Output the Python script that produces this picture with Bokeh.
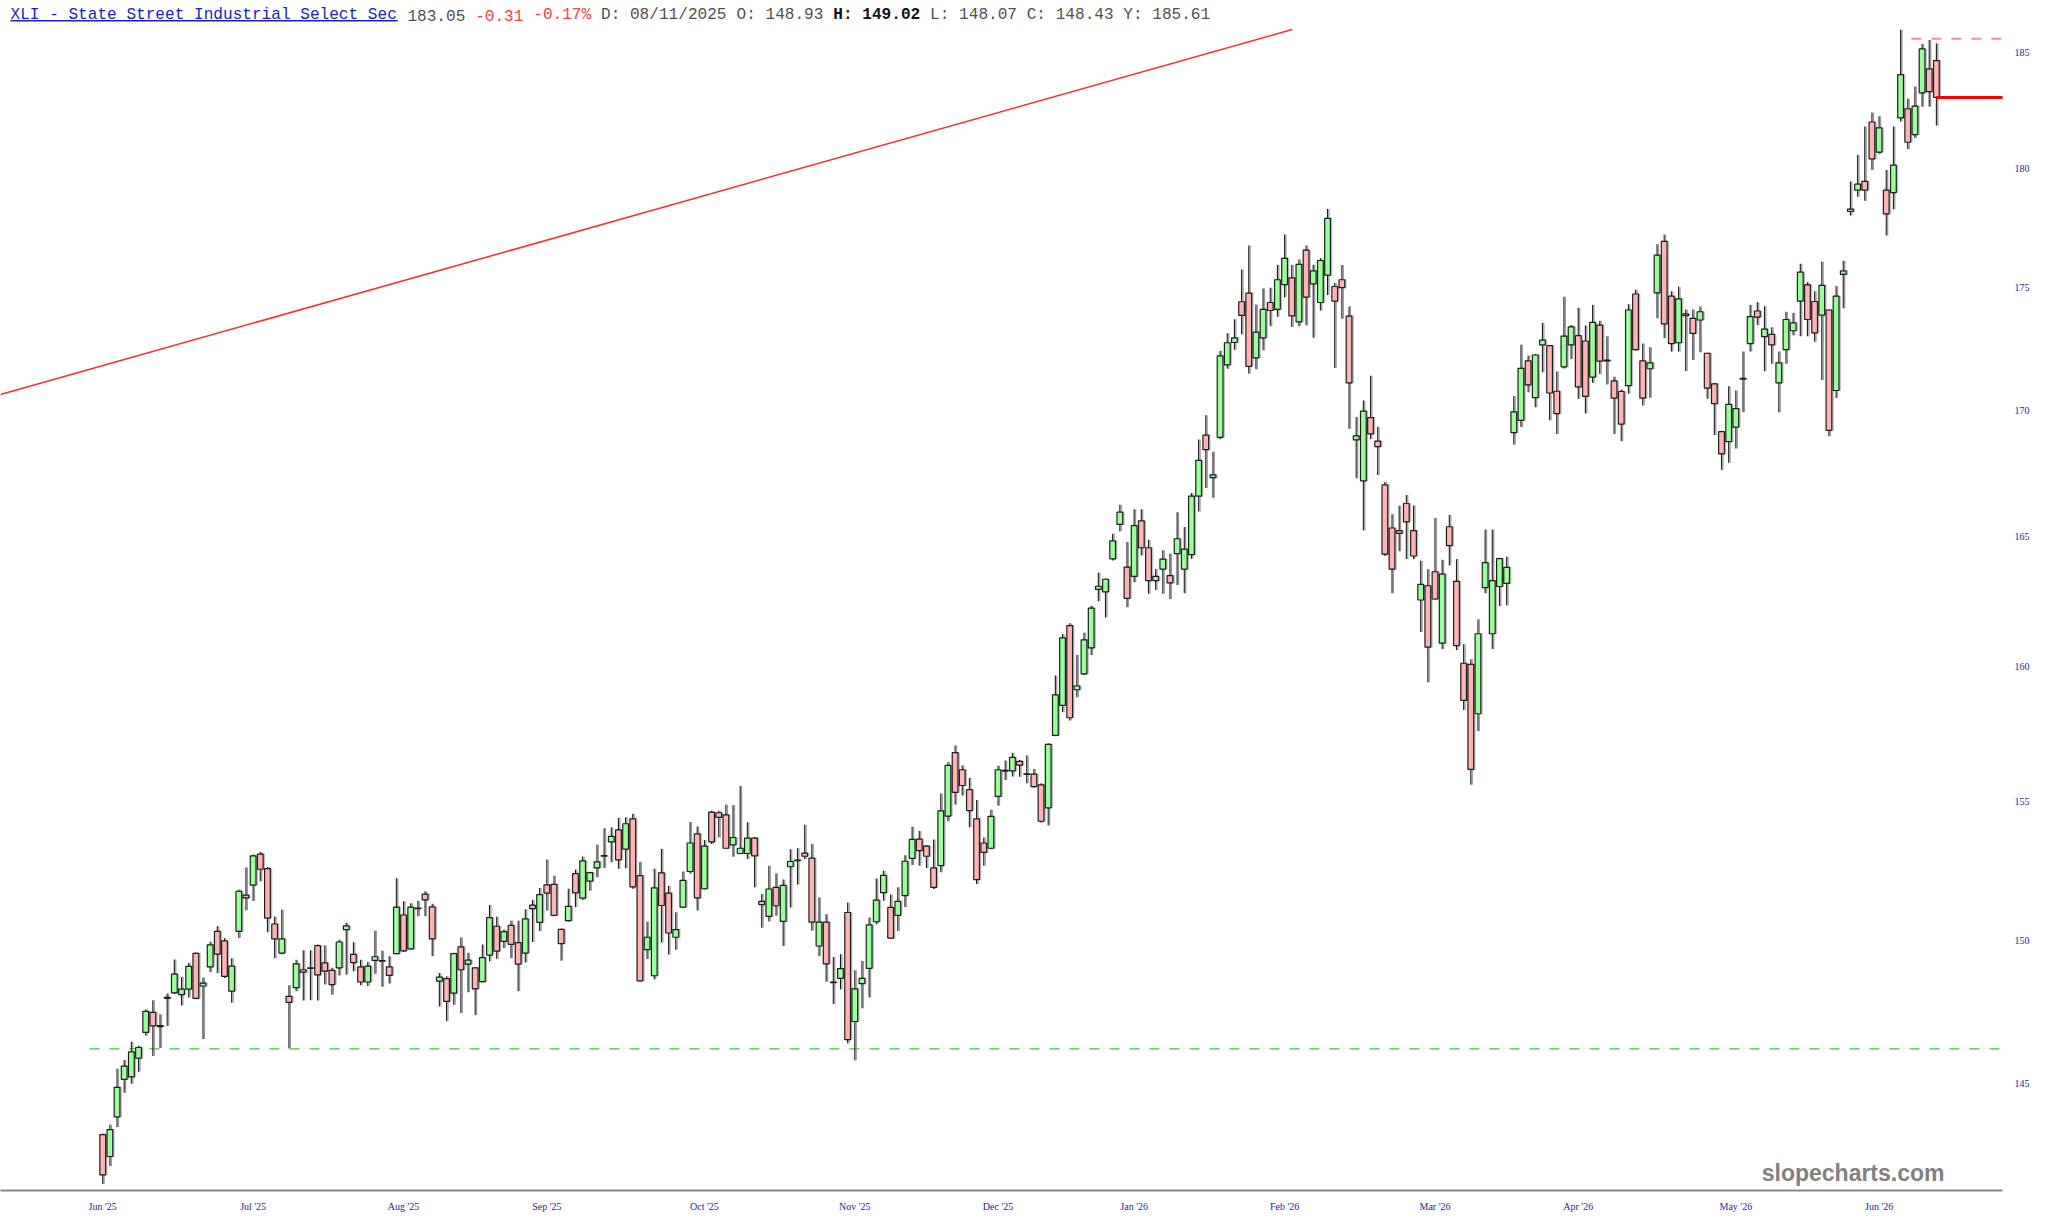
from bokeh.plotting import figure
from bokeh.models import Range1d, FixedTicker, PrintfTickFormatter, Label, BoxAnnotation, ColumnDataSource
from bokeh.transform import dodge
from bokeh.embed import file_html
from bokeh.resources import INLINE

# ---------------- data ----------------
opens = [143.26, 142.52, 143.86, 145.14, 145.23, 145.87, 146.76, 147.46, 147.00, 147.98,
         148.14, 148.08, 148.27, 149.53, 148.38, 149.05, 150.31, 149.97, 148.20, 150.31,
         151.60, 151.96, 153.08, 152.55, 150.57, 149.54, 148.02, 148.32, 148.95, 149.02,
         149.80, 149.19, 148.93, 149.02, 150.37, 149.49, 149.05, 148.52, 149.28, 149.27,
         149.05, 149.52, 150.89, 149.69, 151.14, 151.64, 151.18, 148.55, 148.64, 148.13,
         149.76, 149.15, 149.02, 148.53, 149.47, 150.49, 149.95, 150.52, 149.91, 149.54,
         151.24, 150.63, 151.97, 151.99, 150.38, 150.69, 152.37, 151.49, 152.10, 152.58,
         153.02, 153.52, 153.96, 153.26, 154.36, 152.30, 149.66, 148.74, 152.40, 151.67,
         150.10, 151.17, 152.45, 153.81, 151.83, 154.60, 154.58, 154.50, 153.41, 153.10,
         153.10, 153.66, 151.38, 150.84, 151.88, 150.66, 152.62, 152.86, 153.11, 152.93,
         149.79, 150.64, 148.52, 148.65, 150.98, 147.14, 148.46, 149.00, 150.65, 151.69,
         151.16, 150.88, 151.58, 152.92, 153.62, 153.37, 152.58, 152.66, 154.46, 156.79,
         156.16, 155.43, 154.36, 153.48, 153.29, 155.18, 156.11, 156.12, 156.47, 156.01,
         156.00, 155.60, 154.76, 157.43, 158.55, 161.57, 159.14, 159.74, 160.72, 162.96,
         162.86, 164.14, 165.48, 163.82, 163.46, 165.62, 164.57, 163.30, 163.74, 163.49,
         164.34, 163.74, 164.30, 166.59, 169.01, 167.32, 168.92, 171.84, 172.75, 174.42,
         174.78, 172.12, 172.94, 174.39, 174.11, 175.13, 175.41, 173.59, 176.56, 175.16,
         174.39, 175.52, 175.05, 175.33, 173.83, 168.82, 167.19, 169.71, 168.77, 167.03,
         165.34, 165.24, 166.30, 165.24, 162.55, 163.10, 163.64, 160.90, 165.39, 163.27,
         160.14, 160.10, 158.24, 163.03, 161.26, 163.07, 163.19, 169.11, 169.60, 172.00,
         170.51, 172.65, 172.62, 170.77, 171.76, 172.65, 173.03, 172.81, 171.34, 173.46,
         172.03, 171.19, 170.76, 171.00, 174.74, 172.00, 171.68, 174.79, 176.93, 174.65,
         172.74, 173.92, 173.74, 173.67, 172.31, 171.07, 169.15, 168.75, 169.33, 171.29,
         172.70, 174.04, 172.99, 173.08, 171.11, 172.46, 173.23, 174.45, 175.12, 174.43,
         173.87, 174.08, 170.80, 175.55, 178.28, 179.08, 179.45, 181.99, 180.70, 179.08,
         178.98, 182.17, 182.56, 181.45, 183.25, 184.29, 184.65]

highs = [143.30, 143.59, 145.51, 145.81, 146.44, 146.30, 147.56, 147.88, 147.39, 148.12,
         149.31, 148.70, 149.19, 149.56, 148.68, 149.94, 150.49, 150.06, 149.36, 151.80,
         152.59, 153.06, 153.15, 152.61, 150.84, 151.08, 148.41, 149.30, 149.64, 149.64,
         149.84, 149.81, 149.02, 150.01, 150.61, 149.92, 149.30, 149.22, 150.33, 149.62,
         149.43, 152.21, 151.38, 151.31, 151.40, 151.74, 151.29, 148.84, 148.72, 149.55,
         150.09, 149.55, 149.04, 149.84, 151.25, 150.83, 150.37, 150.69, 150.69, 151.10,
         151.43, 151.86, 152.88, 152.30, 150.40, 151.83, 152.52, 152.99, 152.44, 153.42,
         154.02, 154.04, 154.40, 154.42, 154.54, 152.80, 150.65, 152.55, 153.26, 151.94,
         150.99, 152.45, 154.24, 154.08, 153.59, 154.65, 154.65, 154.87, 154.86, 155.56,
         154.23, 153.70, 151.64, 152.66, 152.38, 152.16, 153.25, 153.29, 154.14, 153.44,
         151.52, 150.92, 149.40, 149.50, 151.34, 148.93, 149.26, 150.80, 152.20, 152.48,
         151.62, 151.88, 153.04, 154.07, 153.92, 153.40, 153.61, 155.29, 156.44, 157.06,
         156.32, 155.86, 155.05, 153.68, 154.69, 156.31, 156.50, 156.79, 156.52, 156.69,
         156.19, 155.66, 157.14, 159.68, 161.25, 161.66, 160.45, 161.30, 162.33, 163.60,
         163.38, 165.12, 166.25, 164.79, 166.07, 166.07, 164.88, 163.75, 164.47, 164.34,
         165.96, 165.38, 166.71, 168.83, 169.80, 168.35, 172.41, 173.13, 173.70, 175.75,
         176.75, 174.31, 174.97, 175.00, 175.94, 177.21, 175.94, 176.17, 176.75, 175.95,
         176.22, 178.29, 175.20, 175.94, 174.23, 169.73, 170.40, 171.40, 169.34, 167.15,
         165.88, 166.21, 166.63, 166.22, 164.07, 163.74, 165.73, 164.10, 165.85, 164.13,
         160.86, 160.29, 161.81, 165.28, 165.28, 164.18, 164.22, 170.58, 172.66, 172.22,
         172.28, 173.55, 172.65, 171.57, 174.63, 173.46, 174.17, 173.44, 174.29, 173.64,
         173.00, 171.36, 170.84, 174.32, 174.92, 172.71, 172.56, 176.81, 177.20, 174.85,
         175.04, 174.10, 174.10, 174.22, 172.33, 171.10, 169.18, 170.97, 170.80, 172.38,
         174.29, 174.40, 174.24, 173.37, 172.38, 174.01, 173.96, 175.99, 175.23, 174.85,
         176.08, 174.10, 175.07, 176.12, 179.45, 180.58, 181.80, 182.40, 182.24, 179.94,
         181.80, 186.00, 182.99, 183.52, 185.38, 185.55, 185.40]

lows = [141.60, 142.20, 143.52, 144.68, 144.99, 145.40, 146.65, 145.95, 146.22, 146.98,
        148.10, 147.70, 147.98, 147.92, 146.53, 148.87, 148.84, 148.66, 147.79, 150.07,
        151.06, 151.39, 152.10, 150.28, 149.36, 149.50, 146.21, 148.20, 147.87, 147.88,
        147.87, 148.43, 148.07, 148.75, 148.78, 148.90, 148.41, 148.38, 148.81, 148.35,
        148.47, 149.50, 149.58, 149.66, 150.85, 150.85, 149.43, 147.66, 147.15, 147.72,
        147.44, 148.16, 147.37, 148.50, 149.25, 149.34, 149.72, 149.36, 148.20, 149.21,
        149.93, 150.32, 151.05, 150.85, 149.27, 150.66, 151.17, 151.43, 151.76, 152.24,
        152.58, 152.78, 152.55, 152.57, 151.83, 148.54, 149.33, 148.62, 149.91, 149.49,
        149.66, 151.15, 152.37, 151.05, 151.80, 153.44, 153.68, 153.27, 152.98, 153.07,
        152.90, 151.88, 150.44, 150.66, 150.86, 149.79, 151.16, 151.98, 152.89, 150.33,
        149.44, 148.53, 147.75, 148.26, 146.39, 145.80, 147.60, 147.98, 150.56, 151.40,
        150.05, 150.32, 151.18, 152.68, 152.66, 152.58, 151.82, 152.42, 154.27, 154.88,
        155.21, 154.05, 152.00, 152.66, 153.25, 154.84, 155.78, 155.91, 155.90, 155.66,
        155.50, 154.22, 154.12, 157.40, 158.30, 157.99, 158.86, 159.70, 160.45, 162.50,
        161.88, 164.08, 165.21, 162.27, 163.23, 164.27, 162.79, 162.94, 162.79, 162.59,
        163.13, 162.81, 164.14, 165.99, 166.91, 166.53, 168.85, 171.68, 172.45, 173.09,
        171.48, 171.66, 172.43, 173.41, 173.80, 174.61, 173.38, 173.41, 173.45, 172.94,
        174.06, 174.70, 171.71, 173.72, 169.26, 167.30, 165.24, 168.85, 167.42, 164.25,
        162.81, 164.43, 164.13, 164.13, 161.33, 159.42, 162.55, 160.68, 163.88, 160.64,
        158.38, 155.61, 157.60, 162.81, 160.68, 162.32, 162.35, 168.64, 169.33, 170.73,
        170.13, 171.54, 169.60, 169.05, 171.69, 172.08, 170.47, 169.87, 171.11, 171.47,
        171.04, 169.05, 168.76, 170.67, 172.42, 170.20, 170.51, 173.74, 172.92, 172.38,
        172.38, 171.59, 172.04, 172.35, 170.47, 169.01, 167.63, 167.91, 168.48, 169.93,
        172.38, 173.46, 171.58, 171.88, 169.93, 171.88, 173.05, 173.00, 173.00, 172.78,
        171.23, 168.96, 170.50, 174.15, 178.01, 178.80, 178.63, 179.94, 180.63, 177.17,
        178.28, 182.01, 180.83, 181.30, 182.65, 182.65, 181.84]

closes = [141.90, 143.43, 144.87, 145.60, 146.09, 146.24, 147.49, 146.99, 146.96, 147.95,
          148.80, 148.27, 149.07, 147.95, 148.48, 149.83, 149.50, 148.72, 149.08, 151.74,
          151.50, 153.01, 152.53, 150.78, 150.04, 150.04, 147.81, 149.16, 148.87, 149.00,
          148.77, 148.90, 148.43, 149.93, 150.50, 149.20, 148.52, 149.08, 149.41, 149.25,
          148.75, 151.17, 149.62, 151.17, 151.12, 151.43, 150.04, 148.69, 147.84, 149.52,
          148.95, 149.29, 148.28, 149.38, 150.80, 149.61, 150.30, 149.85, 149.15, 150.75,
          151.12, 151.62, 151.67, 150.88, 149.87, 151.20, 151.68, 152.83, 152.41, 152.80,
          153.00, 153.72, 152.87, 154.18, 151.90, 148.56, 150.10, 151.86, 151.23, 150.25,
          150.37, 152.13, 153.48, 151.50, 153.37, 153.52, 154.41, 153.29, 153.68, 153.29,
          153.66, 153.01, 151.26, 151.82, 151.22, 151.95, 152.81, 152.84, 153.00, 150.64,
          150.64, 149.16, 148.50, 148.99, 146.51, 148.28, 148.65, 150.54, 151.42, 152.31,
          150.07, 151.38, 152.82, 153.61, 153.20, 153.00, 151.88, 154.65, 156.32, 155.33,
          155.58, 154.66, 152.16, 153.14, 154.45, 156.16, 156.14, 156.62, 156.33, 155.99,
          155.54, 154.27, 157.10, 158.95, 161.10, 158.09, 159.28, 161.03, 162.24, 163.08,
          163.35, 164.84, 165.96, 162.61, 165.43, 164.57, 163.30, 163.46, 164.13, 163.21,
          164.92, 164.52, 166.59, 168.00, 168.43, 167.43, 172.20, 172.74, 172.94, 173.86,
          171.78, 173.17, 174.11, 174.06, 175.33, 176.22, 173.84, 175.97, 174.61, 175.70,
          176.13, 177.89, 174.45, 175.00, 171.11, 168.98, 169.97, 169.06, 168.55, 164.32,
          163.74, 165.13, 165.58, 164.25, 163.15, 160.75, 162.59, 163.55, 164.65, 160.81,
          158.74, 156.17, 161.26, 163.99, 163.30, 164.15, 163.81, 169.94, 171.70, 171.03,
          172.24, 172.85, 170.70, 169.87, 173.01, 173.39, 170.95, 170.56, 173.57, 171.99,
          172.00, 170.49, 169.45, 174.08, 172.46, 170.49, 171.92, 176.35, 173.51, 172.70,
          174.54, 173.85, 173.12, 174.01, 170.90, 170.27, 168.26, 170.24, 170.07, 171.26,
          173.81, 173.79, 173.30, 172.65, 171.92, 173.69, 173.55, 175.65, 173.69, 173.14,
          175.10, 169.20, 174.65, 175.70, 178.18, 179.34, 179.08, 180.41, 181.74, 178.08,
          180.14, 184.04, 181.12, 182.67, 185.16, 183.30, 183.05]

month_ticks = [0, 21, 42, 62, 84, 105, 125, 144, 165, 186, 206, 228, 248]
month_labels = ["Jun '25", "Jul '25", "Aug '25", "Sep '25", "Oct '25", "Nov '25", "Dec '25",
                "Jan '26", "Feb '26", "Mar '26", "Apr '26", "May '26", "Jun '26"]
price_ticks = [145, 150, 155, 160, 165, 170, 175, 180, 185]

trend_x = [-14.27, 166.07]          # drawn trendline (bar index)
trend_y = [170.64, 186.01]          # trendline prices
support_x = [-1.86, 280.0]
support_y = [146.19, 146.19]
high_x = [252.5, 280.0]
high_y = [185.61, 185.61]
last_x = [256, 280.0]
last_y = [183.05, 183.05]

header = [  # (text, character column, colour, bold)
    ("XLI - State Street Industrial Select Sec", 0, "#1c1cc4", False),
    ("183.05", 41, "#505050", False),
    ("-0.31", 48, "#ff3b3b", False),
    ("-0.17%", 54, "#ff3b3b", False),
    ("D: 08/11/2025", 61, "#505050", False),
    ("O: 148.93", 75, "#505050", False),
    ("H: 149.02", 85, "#111111", True),
    ("L: 148.07 C: 148.43 Y: 185.61", 95, "#505050", False),
]

# ---------------- figure ----------------
W, H = 2032, 1214
BOTTOM = 24
p = figure(width=W, height=H, output_backend="svg", toolbar_location=None,
           y_axis_type="log", y_axis_location="right",
           x_range=Range1d(-14.27, 265.23), y_range=Range1d(141.38, 187.29),
           min_border_left=0, min_border_top=0, min_border_right=28, min_border_bottom=BOTTOM)
p.background_fill_color = "white"
p.border_fill_color = "white"
p.outline_line_color = None
p.xgrid.visible = False
p.ygrid.visible = False

idx = list(range(len(closes)))
body_top = [max(o, c) for o, c in zip(opens, closes)]
body_bot = [min(o, c) for o, c in zip(opens, closes)]
fills = ["#99ff99" if c >= o else "#ffb3b3" for o, c in zip(opens, closes)]
src = ColumnDataSource(dict(x=idx, top=body_top, bottom=body_bot, high=highs, low=lows, fill=fills))

# reference lines
p.line(trend_x, trend_y, line_color="#ff2a2a", line_width=1.5)
p.line(support_x, support_y, line_color="#2fcc2f", line_width=1.4, line_dash="10 10")
p.line(high_x, high_y, line_color="#ff8c8c", line_width=2, line_dash="10 10")

# candle shadows
p.segment(x0=dodge("x", 0.2), x1=dodge("x", 0.2), y0="low", y1="high", source=src,
          line_color="#9a9a9a", line_width=1.3)
p.vbar(x=dodge("x", 0.2), width=0.8, top="top", bottom="bottom", source=src,
       fill_color="#a0a0a0", fill_alpha=0.55, line_color="#a0a0a0", line_alpha=0.55, line_width=1.2)
# wicks and bodies
p.segment(x0="x", x1="x", y0="low", y1="high", source=src, line_color="#1a1a1a", line_width=1.1)
p.vbar(x="x", width=0.8, top="top", bottom="bottom", source=src,
       fill_color="fill", line_color="#1e1e1e", line_width=1.2)

p.line(last_x, last_y, line_color="#ff0000", line_width=3)

# axes
p.xaxis.ticker = FixedTicker(ticks=month_ticks)
p.xaxis.major_label_overrides = {t: lab for t, lab in zip(month_ticks, month_labels)}
p.xaxis.axis_line_color = "#888888"
p.xaxis.axis_line_width = 2
p.xaxis.major_tick_line_color = None
p.xaxis.minor_tick_line_color = None
p.xaxis.major_tick_out = 0
p.xaxis.major_tick_in = 0
p.xaxis.major_label_standoff = 10
p.xaxis.major_label_text_font = "Liberation Serif"
p.xaxis.major_label_text_font_size = "10px"
p.xaxis.major_label_text_color = "#1e1e96"

p.yaxis.ticker = FixedTicker(ticks=price_ticks)
p.yaxis.formatter = PrintfTickFormatter(format="%d")
p.yaxis.axis_line_color = None
p.yaxis.major_tick_line_color = None
p.yaxis.minor_tick_line_color = None
p.yaxis.major_tick_out = 0
p.yaxis.major_tick_in = 0
p.yaxis.major_label_standoff = 12
p.yaxis.major_label_text_font = "Liberation Serif"
p.yaxis.major_label_text_font_size = "10px"
p.yaxis.major_label_text_color = "#1e1e96"

# header text (screen units measured from the frame's bottom-left corner)
frame_h = H - BOTTOM
char_w = 9.68
for text, col, color, bold in header:
    p.add_layout(Label(x=10 + col * char_w, y=frame_h - 14.5, x_units="screen", y_units="screen",
                       text=text, text_font="Liberation Mono", text_font_size="16.1px",
                       text_color=color, text_font_style="bold" if bold else "normal",
                       text_baseline="alphabetic", text_align="left"))
p.add_layout(BoxAnnotation(left=10, right=10 + 40 * char_w, bottom=frame_h - 21, top=frame_h - 19.5,
                           left_units="screen", right_units="screen",
                           top_units="screen", bottom_units="screen",
                           fill_color="#1c1cc4", fill_alpha=1.0, line_color=None))

# watermark
p.add_layout(Label(x=1944, y=18, x_units="screen", y_units="screen", text="slopecharts.com",
                   text_font="Liberation Sans", text_font_size="23px", text_font_style="bold",
                   text_color="#808080", text_align="right", text_baseline="alphabetic"))

open("out.html", "w").write(file_html(p, INLINE))
